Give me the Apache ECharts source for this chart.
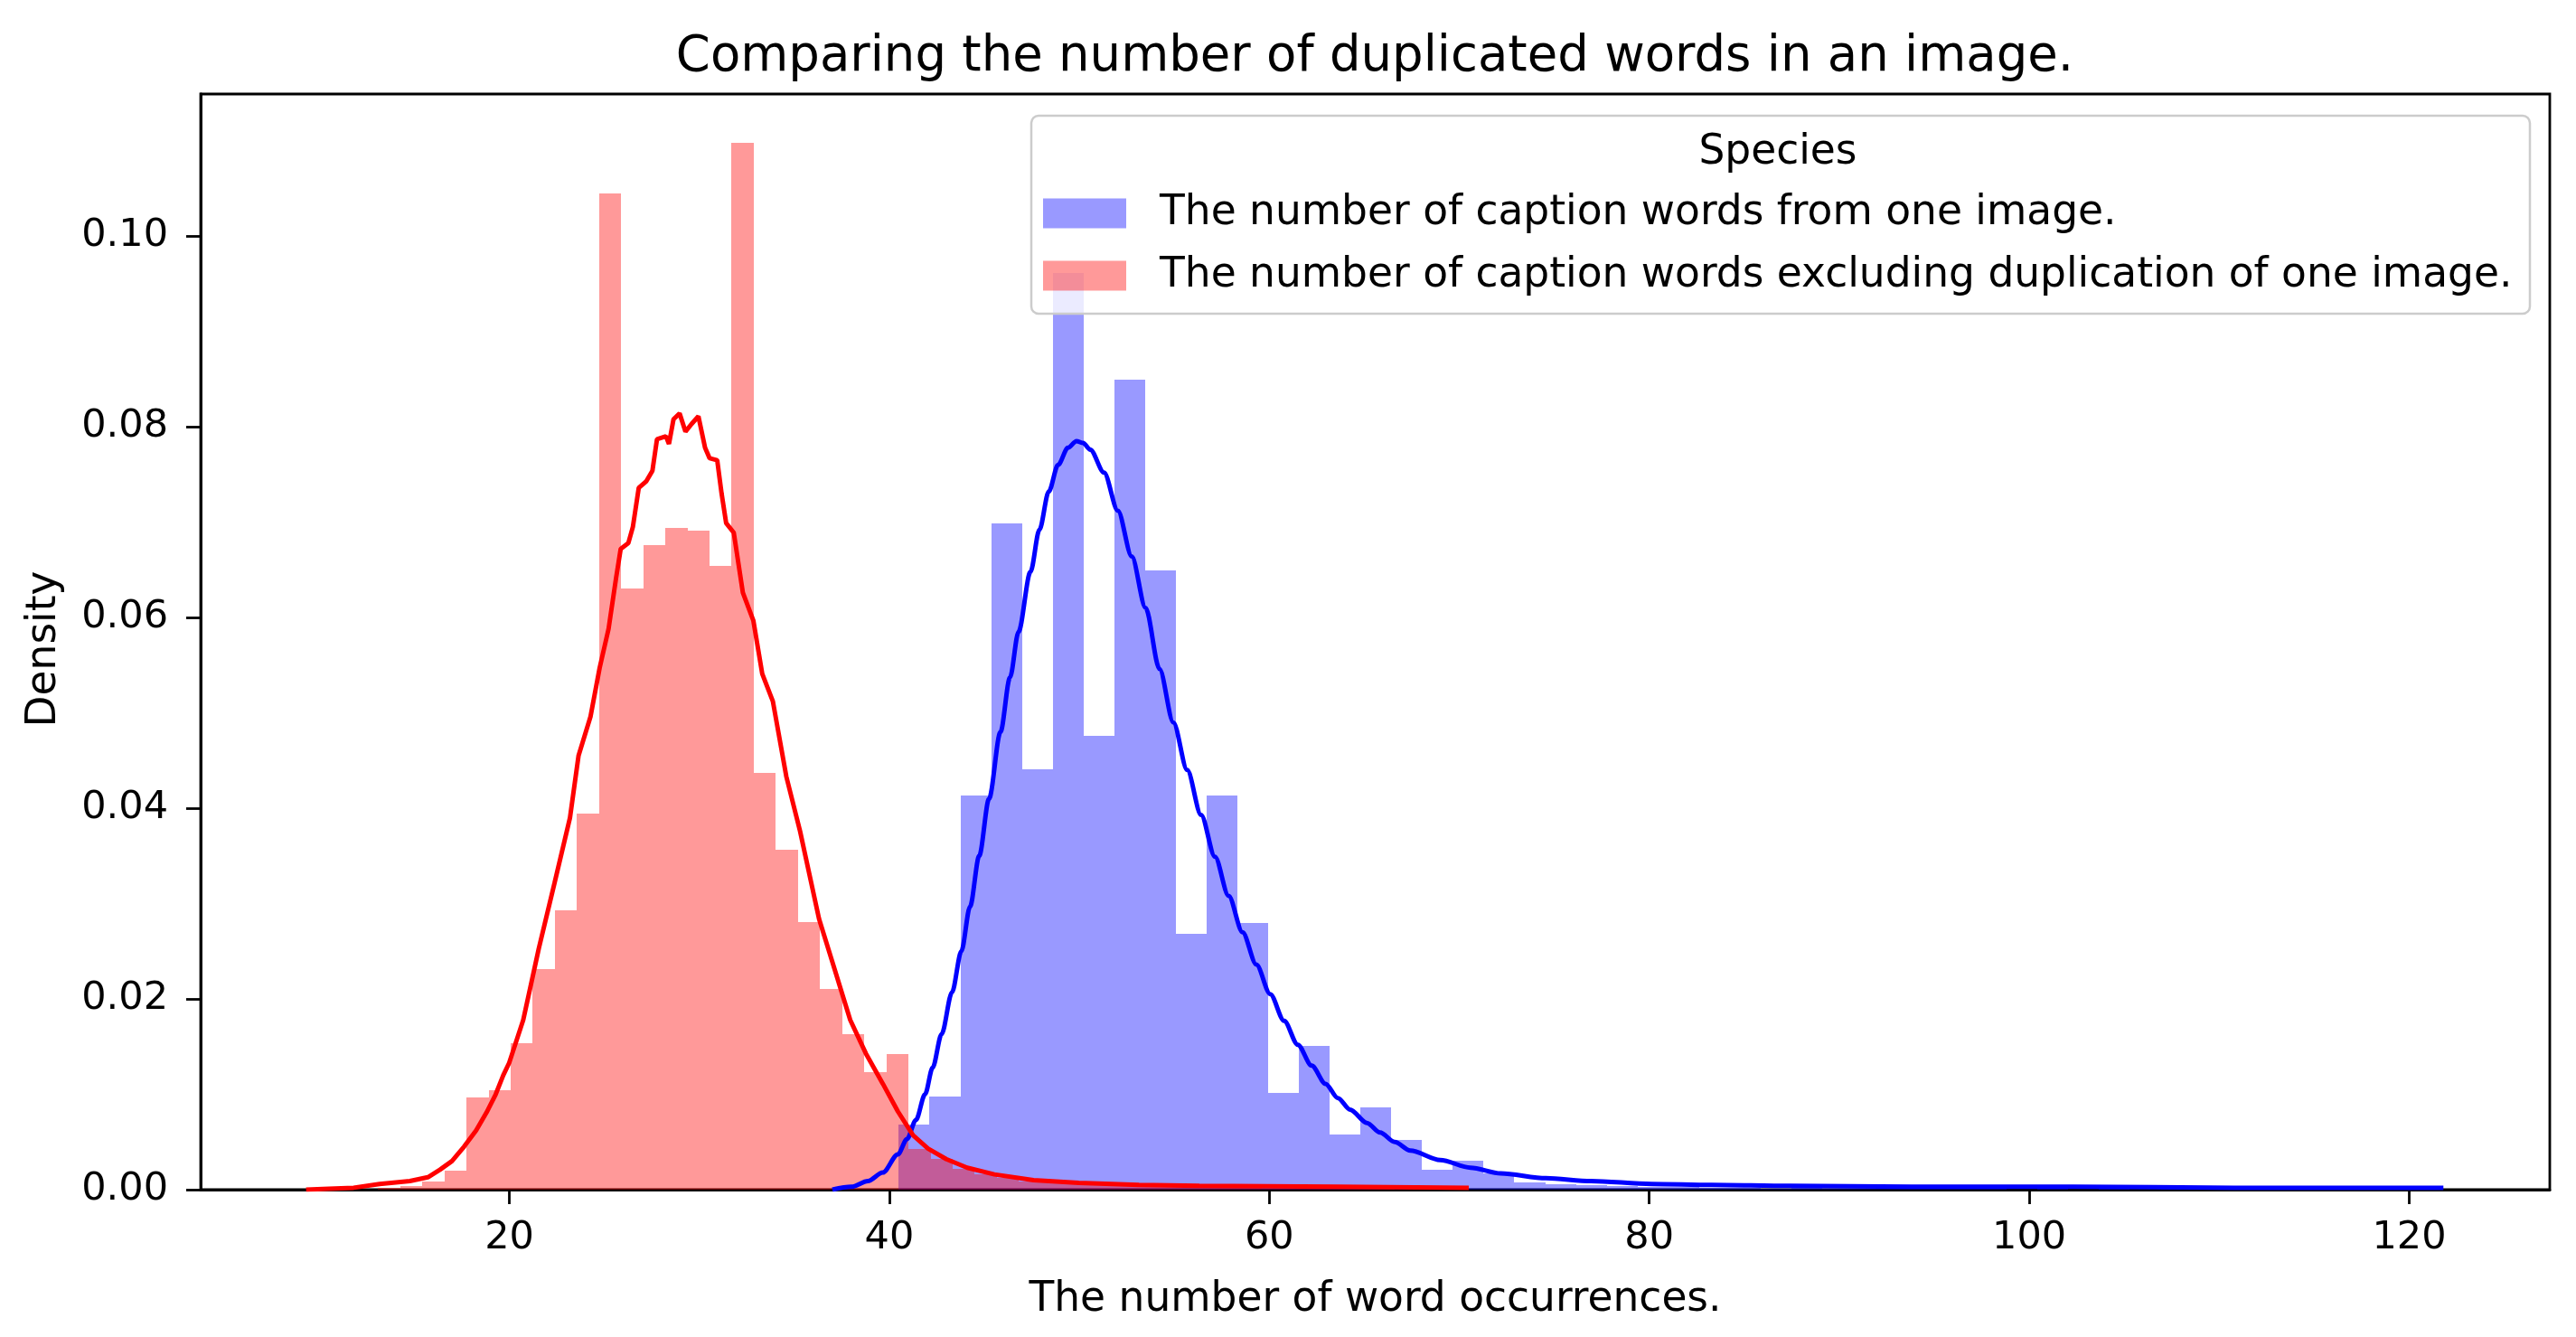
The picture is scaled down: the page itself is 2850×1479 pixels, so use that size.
<!DOCTYPE html>
<html>
<head>
<meta charset="utf-8">
<script src="https://cdn.jsdelivr.net/npm/echarts@6/dist/echarts.min.js"></script>
<style>
  html, body { margin: 0; padding: 0; background: #fff; }
  #chart { width: 2850px; height: 1479px; }
</style>
</head>
<body>
<div id="chart"></div>
<script>
// tick values
const xTicks = [20, 40, 60, 80, 100, 120]
const yTicks = [0, 0.02, 0.04, 0.06, 0.08, 0.10]

// histogram of the caption words (blue), bin edges + density
const blueEdges = [40.50, 42.12, 43.74, 45.36, 46.98, 48.60, 50.22, 51.84, 53.46, 55.08,
  56.70, 58.32, 59.94, 61.56, 63.18, 64.80, 66.42, 68.04, 69.66, 71.28,
  72.90, 74.52, 76.14, 77.76, 79.38, 81.00, 82.62, 84.24, 85.86, 87.48,
  89.10, 90.72, 92.34, 93.96, 95.58, 97.20, 98.82, 100.44, 102.06, 103.68,
  105.30, 106.92, 108.54, 110.16, 111.78, 113.40, 115.02, 116.64, 118.26]
const blueDensity = [0.0068, 0.0098, 0.0413, 0.0699, 0.0441, 0.0961, 0.0476, 0.0849, 0.0649, 0.0268,
  0.0413, 0.0280, 0.0101, 0.0151, 0.0058, 0.0086, 0.0052, 0.0021, 0.0030, 0.0017,
  0.0008, 0.0006, 0.0005, 0.0004, 0.0003, 0.0003, 0.0002, 0.0002, 0.0001, 0.0002,
  0.0001, 0.0001, 0.0001, 0.0001, 0.0001, 0.0001, 0, 0.0001, 0, 0.0001,
  0, 0.0001, 0, 0, 0.0001, 0, 0, 0.0001]

// histogram of the words excluding duplication (red)
const redEdges = [13.09, 14.25, 15.42, 16.58, 17.74, 18.91, 20.07, 21.23, 22.39, 23.56,
  24.72, 25.88, 27.05, 28.21, 29.37, 30.54, 31.70, 32.86, 34.02, 35.19,
  36.35, 37.51, 38.68, 39.84, 41.00, 42.17, 43.33, 44.49, 45.65, 46.82,
  47.98, 49.14, 50.31, 51.47, 52.63, 53.80, 54.96, 56.12, 57.28, 58.45,
  59.61, 60.77, 61.94, 63.10, 64.26, 65.43, 66.59]
const redDensity = [0.0002, 0.0004, 0.0009, 0.0020, 0.0097, 0.0104, 0.0154, 0.0231, 0.0293, 0.0394,
  0.1045, 0.0630, 0.0676, 0.0694, 0.0691, 0.0654, 0.1098, 0.0437, 0.0356, 0.0281,
  0.0210, 0.0163, 0.0123, 0.0142, 0.0043, 0.0032, 0.0022, 0.0016, 0.0012, 0.0009,
  0.0008, 0.0006, 0.0005, 0.0004, 0.0004, 0.0003, 0.0003, 0.0002, 0.0002, 0.0002,
  0.0001, 0.0001, 0.0001, 0.0001, 0.0001, 0.0001]

// kde curves
const blueKdeX = [37.0, 38.0, 38.87, 39.66, 40.45, 40.93, 41.4, 41.88, 42.28, 42.75,
  43.3, 43.79, 44.25, 44.73, 45.25, 45.85, 46.35, 46.8, 47.43, 47.9,
  48.39, 48.88, 49.4, 49.85, 50.2, 50.58, 51.3, 52.03, 52.76, 53.49,
  54.22, 54.95, 55.68, 56.41, 57.14, 57.86, 58.59, 59.32, 60.05, 60.78,
  61.5, 62.23, 62.96, 63.61, 64.25, 65.14, 65.83, 66.6, 67.42, 69.0,
  70.59, 72.18, 74.56, 76.93, 80.11, 83.28, 87.4, 93.8, 102.3, 110.8, 121.8]
const blueKdeY = [0, 0.0003, 0.0009, 0.0018, 0.0037, 0.0053, 0.0073, 0.0100, 0.0128, 0.0163,
  0.0207, 0.0250, 0.0297, 0.0350, 0.0410, 0.0480, 0.0537, 0.0585, 0.0648, 0.0692,
  0.0732, 0.0760, 0.0778, 0.0785, 0.0783, 0.0776, 0.0752, 0.0712, 0.0664, 0.0610,
  0.0546, 0.0490, 0.0440, 0.0393, 0.0349, 0.0308, 0.0270, 0.0236, 0.0205, 0.0177,
  0.0152, 0.0130, 0.0111, 0.0096, 0.0084, 0.0070, 0.0060, 0.0050, 0.0041, 0.0031,
  0.0023, 0.0017, 0.0012, 0.0009, 0.0006, 0.0005, 0.0004, 0.0003, 0.0003, 0.0002, 0.0002]

const redKdeX = [9.3, 10.5, 11.8, 13.17, 14.76, 15.71, 16.35, 16.98, 17.61, 18.25,
  18.8, 19.28, 19.68, 19.99, 20.73, 21.55, 22.37, 23.19, 23.64, 24.27,
  24.75, 25.22, 25.62, 25.86, 26.26, 26.5, 26.81, 27.21, 27.53, 27.77,
  28.24, 28.4, 28.64, 28.96, 29.27, 29.59, 29.95, 30.3, 30.54, 30.94,
  31.17, 31.41, 31.81, 32.29, 32.84, 33.31, 33.87, 34.58, 35.3, 36.3,
  37.12, 37.94, 38.76, 39.66, 40.45, 41.25, 42.04, 43.0, 44.1, 45.53,
  47.59, 49.97, 53.14, 56.32, 63.6, 70.5]
const redKdeY = [0, 0.0001, 0.0002, 0.0006, 0.0009, 0.0013, 0.0021, 0.003, 0.0045, 0.0062,
  0.0081, 0.01, 0.012, 0.0133, 0.0178, 0.0253, 0.0321, 0.039, 0.0455, 0.0496,
  0.0547, 0.0588, 0.0642, 0.0672, 0.0678, 0.0695, 0.0736, 0.0743, 0.0754, 0.0787,
  0.079, 0.0782, 0.0808, 0.0814, 0.0795, 0.0803, 0.0811, 0.0778, 0.0767, 0.0765,
  0.073, 0.0699, 0.0689, 0.0626, 0.0597, 0.0541, 0.0512, 0.0433, 0.0376, 0.0284,
  0.0231, 0.0178, 0.0143, 0.0111, 0.0082, 0.0057, 0.0043, 0.0032, 0.0023, 0.0016,
  0.001, 0.0007, 0.0005, 0.0004, 0.0003, 0.0002]

const blueName = 'The number of caption words from one image.'
const redName = 'The number of caption words excluding duplication of one image.'
const FONT = 'DejaVu Sans'

const toBins = (edges, dens) => dens.map((d, i) => [edges[i], edges[i + 1], d])
const toLine = (xs, ys) => xs.map((x, i) => [x, ys[i]])

// one rect per bin, edges rounded so neighbouring bars don't leave seams
function histItem(params, api) {
  const p0 = api.coord([api.value(0), api.value(2)])
  const p1 = api.coord([api.value(1), 0])
  const x0 = Math.round(p0[0])
  const x1 = Math.round(p1[0])
  const y0 = Math.round(p0[1])
  const y1 = Math.round(p1[1])
  return {
    type: 'rect',
    shape: { x: x0, y: y0, width: x1 - x0, height: y1 - y0 },
    style: api.style()
  }
}

const chart = echarts.init(document.getElementById('chart'), null, { renderer: 'canvas' })

const options = {
  animation: false,
  textStyle: { fontFamily: FONT },
  grid: {
    left: 222, top: 104, width: 2599, height: 1212,
    show: true, borderColor: '#000', borderWidth: 2.8,
    containLabel: false
  },
  xAxis: {
    type: 'value',
    min: 3.75,
    max: 127.4,
    name: 'The number of word occurrences.',
    nameLocation: 'middle',
    nameGap: 99,
    nameTextStyle: { fontSize: 45.5, color: '#000', fontFamily: FONT },
    axisLine: { onZero: false, lineStyle: { color: '#000', width: 2.8 } },
    axisTick: { length: 16, lineStyle: { color: '#000', width: 2.8 }, customValues: xTicks },
    axisLabel: { customValues: xTicks, fontSize: 43, color: '#000', margin: 32, fontFamily: FONT },
    splitLine: { show: false }
  },
  yAxis: {
    type: 'value',
    min: 0,
    max: 0.1149,
    name: 'Density',
    nameLocation: 'middle',
    nameGap: 150,
    nameTextStyle: { fontSize: 45.5, color: '#000', fontFamily: FONT, padding: [0, 16, 0, 0] },
    axisLine: { show: true, onZero: false, lineStyle: { color: '#000', width: 2.8 } },
    axisTick: { show: true, length: 16, lineStyle: { color: '#000', width: 2.8 }, customValues: yTicks },
    axisLabel: {
      customValues: yTicks, fontSize: 43, color: '#000', margin: 36, fontFamily: FONT,
      padding: [7, 0, 0, 0],
      formatter: (v) => v.toFixed(2)
    },
    splitLine: { show: false }
  },
  legend: {
    orient: 'vertical',
    left: 1154,
    top: 211,
    padding: 0,
    itemWidth: 92,
    itemHeight: 33,
    itemGap: 19,
    icon: 'rect',
    selectedMode: false,
    textStyle: { fontSize: 45.5, color: '#000', fontFamily: FONT, lineHeight: 50, padding: [0, 0, 0, 32] },
    data: [blueName, redName]
  },
  graphic: [
    {
      type: 'text', x: 1521, y: 64, z: 5,
      style: { text: 'Comparing the number of duplicated words in an image.', fill: '#000',
        font: '54.5px "DejaVu Sans"', textAlign: 'center', textVerticalAlign: 'middle' }
    },
    {
      type: 'rect', z: 3,
      shape: { x: 1141, y: 128, width: 1658, height: 219, r: 8 },
      style: { fill: 'rgba(255,255,255,0.8)', stroke: '#cccccc', lineWidth: 2.5 }
    },
    {
      type: 'text', x: 1967, y: 169, z: 5,
      style: { text: 'Species', fill: '#000', font: '45.5px "DejaVu Sans"',
        textAlign: 'center', textVerticalAlign: 'middle' }
    }
  ],
  series: [
    {
      name: blueName,
      type: 'custom',
      renderItem: histItem,
      encode: { x: [0, 1], y: 2 },
      itemStyle: { color: 'rgba(0,0,255,0.4)' },
      data: toBins(blueEdges, blueDensity)
    },
    {
      name: 'blue kde',
      type: 'line',
      showSymbol: false,
      smooth: 0.3,
      smoothMonotone: 'x',
      lineStyle: { color: '#0000ff', width: 5 },
      itemStyle: { color: '#0000ff' },
      data: toLine(blueKdeX, blueKdeY)
    },
    {
      name: redName,
      type: 'custom',
      renderItem: histItem,
      encode: { x: [0, 1], y: 2 },
      itemStyle: { color: 'rgba(255,0,0,0.4)' },
      data: toBins(redEdges, redDensity)
    },
    {
      name: 'red kde',
      type: 'line',
      showSymbol: false,
      smooth: false,
      lineStyle: { color: '#ff0000', width: 5 },
      itemStyle: { color: '#ff0000' },
      data: toLine(redKdeX, redKdeY)
    }
  ]
}

chart.setOption(options)
</script>
</body>
</html>
